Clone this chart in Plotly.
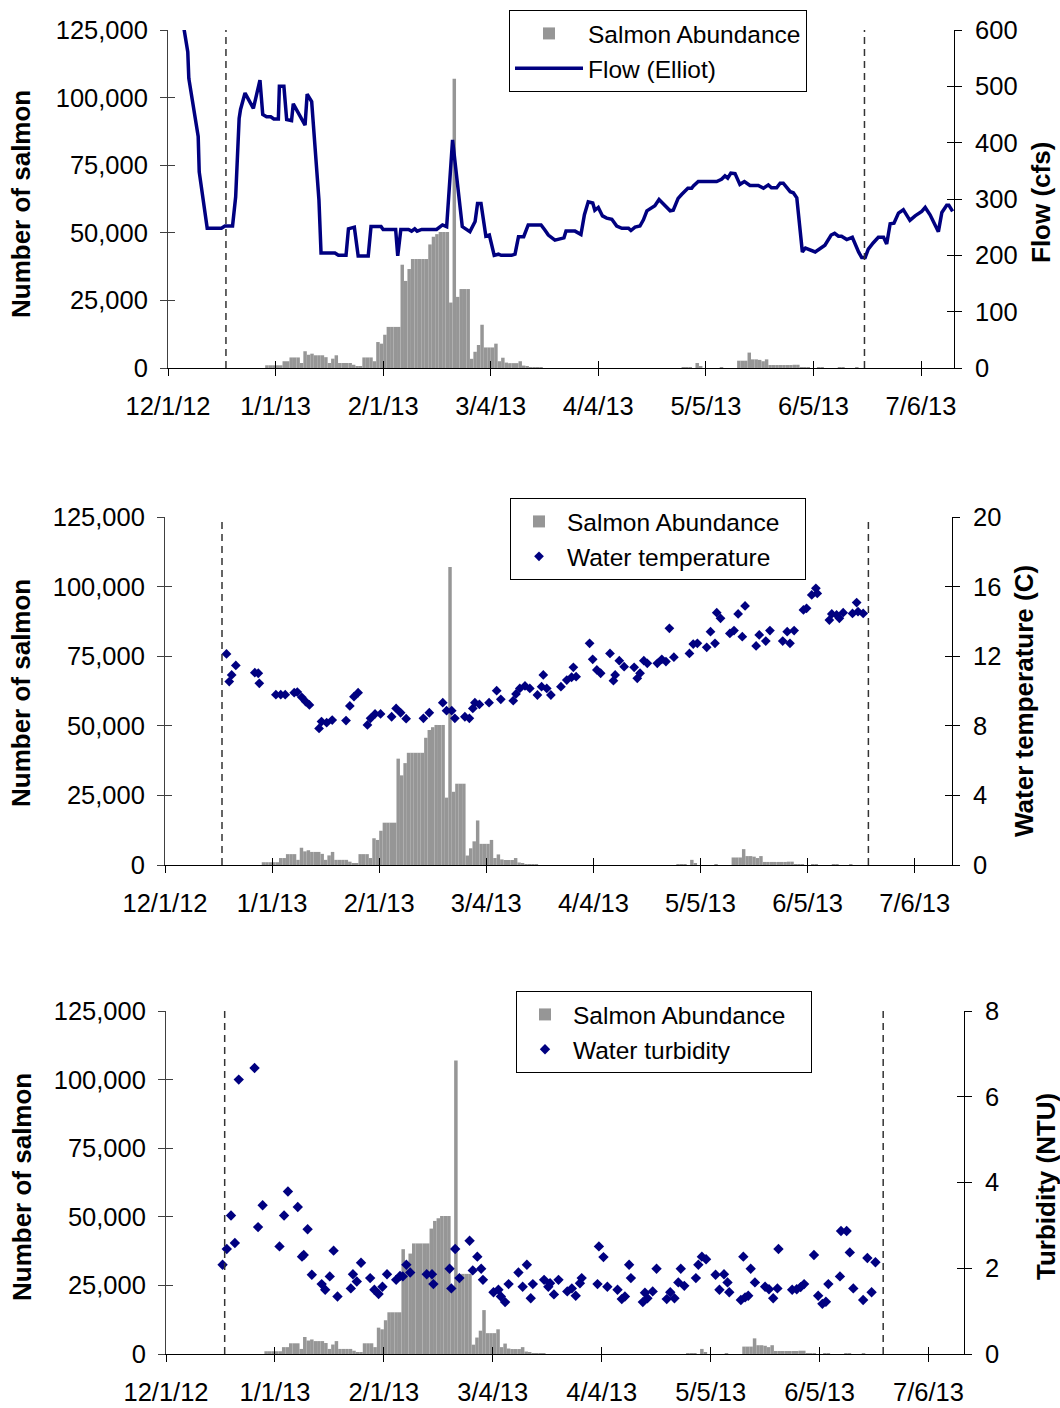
import pandas as pd
import plotly.graph_objects as go

W, H = 1060, 1408
FONT = "Liberation Sans, Arial, sans-serif"
NAVY = "#000080"
BAR_GRAY = "#969696"
ORIGIN = pd.Timestamp("2012-12-01")
DAY_MS = 86400000
NBSP = "\u00a0"

# ---- shared x-axis ticks ----
tick_dates = ["2012-12-01", "2013-01-01", "2013-02-01", "2013-03-04",
              "2013-04-04", "2013-05-05", "2013-06-05", "2013-07-06"]
tick_labels = ["12/1/12", "1/1/13", "2/1/13", "3/4/13",
               "4/4/13", "5/5/13", "6/5/13", "7/6/13"]
count_ticks = [0, 25000, 50000, 75000, 100000, 125000]

# ---- daily salmon abundance (trap counts) ----
winter_run_start = "2012-12-29"
winter_run_counts = [
    1000, 1000, 1000, 1000, 1000, 2500, 2500, 3900, 3900, 3900,
    1850, 6200, 4900, 5300, 4700, 4700, 4700, 4000, 1850, 3450,
    4700, 1850, 1850, 1850, 1850, 1200, 400, 400, 3900, 3900,
    3900, 2500, 9600, 9000, 12300, 15200, 15200, 15200, 15200, 38200,
    32200, 36600, 40300, 40300, 40300, 40300, 40300, 45700, 48500, 49500,
    50300, 50300, 50300, 24200, 107000, 26300, 29200, 29200, 29200, 3400,
    6000, 8500, 16000, 7600, 7600, 7600, 9000, 2500, 3800, 2000,
    1800, 1800, 1800, 2500, 900, 400, 250, 250, 250, 250,
]
spring_run_start = "2013-04-28"
spring_run_counts = [
    200, 200, 200, 0, 1850, 500, 0, 0, 0, 0,
    0, 300, 0, 0, 0, 0, 2700, 2700, 2700, 5700,
    3200, 3200, 3000, 2500, 3200, 1100, 1100, 1100, 1100, 1100,
    1100, 1100, 1200, 1200, 300, 300, 300, 0, 0, 300,
    300, 0, 0, 0, 0, 200, 200, 0, 0, 0,
    200,
]

# ---- flow at Elliot gauge (days after 12/1/12, cfs) ----
flow_days = [
    4.0, 5.7, 6.0, 8.7, 9.0, 11.3, 15.4, 16.4, 18.6, 19.5,
    20.5, 20.9, 22.2, 24.6, 26.5, 27.3, 28.4, 29.6, 30.5, 31.8,
    32.1, 33.4, 34.2, 35.6, 36.1, 37.6, 39.5, 40.1, 41.4, 43.5,
    44.1, 48.1, 49.1, 51.3, 52.0, 53.7, 54.8, 57.7, 58.5, 61.4,
    62.0, 65.6, 66.2, 67.1, 69.3, 70.2, 71.1, 71.8, 73.1, 77.4,
    79.1, 80.3, 82.0, 84.8, 87.0, 88.5, 89.2, 90.2, 91.6, 92.6,
    94.0, 95.2, 96.0, 99.0, 100.0, 101.0, 102.5, 103.8, 107.5, 108.6,
    109.6, 111.5, 112.9, 114.1, 114.7, 117.3, 119.0, 120.0, 121.1, 122.4,
    123.0, 124.0, 125.2, 126.4, 127.9, 129.3, 130.8, 132.7, 133.4, 134.6,
    136.0, 137.0, 138.0, 139.4, 140.3, 141.5, 143.4, 144.7, 145.6, 147.0,
    148.0, 149.8, 150.9, 151.4, 152.8, 158.1, 159.5, 160.5, 161.3, 162.2,
    163.4, 164.8, 166.1, 167.7, 170.1, 171.6, 173.0, 173.9, 175.4, 176.4,
    177.3, 179.3, 180.2, 181.2, 182.8, 183.7, 186.5, 187.9, 189.3, 191.1,
    192.1, 193.2, 194.1, 195.6, 197.2, 199.0, 199.9, 200.9, 201.8, 203.2,
    204.7, 206.2, 207.1, 208.1, 209.2, 210.5, 211.9, 213.8, 215.3, 217.2,
    218.2, 219.6, 220.6, 222.0, 223.0, 224.4, 225.0, 226.1,
]
flow_cfs = [
    625, 561, 514, 411, 348, 248, 248, 252, 252, 304,
    443, 459, 488, 461, 511, 450, 446, 446, 442, 442,
    500, 500, 441, 439, 469, 453, 431, 486, 473, 298,
    204, 204, 200, 200, 247, 250, 199, 199, 251, 251,
    246, 246, 199, 246, 246, 243, 247, 243, 246, 246,
    254, 251, 405, 251, 242, 260, 292, 292, 234, 236,
    200, 202, 200, 200, 202, 233, 233, 254, 254, 245,
    236, 227, 230, 231, 243, 243, 237, 272, 295, 293,
    280, 285, 270, 266, 264, 252, 248, 248, 244, 250,
    252, 263, 279, 285, 288, 299, 288, 279, 280, 301,
    308, 319, 319, 323, 331, 331, 335, 341, 337, 346,
    345, 326, 331, 324, 324, 319, 325, 320, 320, 328,
    328, 313, 311, 302, 206, 213, 206, 213, 218, 236,
    239, 234, 234, 228, 232, 206, 196, 196, 211, 222,
    232, 232, 220, 256, 257, 275, 281, 262, 270, 278,
    285, 272, 260, 242, 276, 289, 289, 278,
]

# ---- water temperature (days after 12/1/12, deg C) ----
temp_days = [
    17.8, 18.6, 19.3, 20.5, 26.0, 27.0, 27.3, 32.1, 33.5, 34.8,
    37.4, 38.3, 39.6, 40.7, 41.8, 44.6, 45.3, 46.8, 48.4, 52.4,
    53.5, 54.7, 55.9, 58.6, 59.5, 60.8, 62.4, 65.6, 66.9, 68.2,
    69.8, 74.8, 76.5, 80.4, 81.5, 83.0, 83.9, 86.8, 88.1, 89.1,
    89.7, 91.0, 93.8, 96.0, 97.2, 100.8, 101.6, 102.7, 104.2, 105.6,
    107.8, 109.0, 109.5, 110.5, 111.7, 114.6, 116.3, 117.7, 118.2, 119.0,
    122.9, 123.8, 125.0, 126.1, 128.8, 129.8, 130.3, 131.5, 132.9, 135.8,
    136.7, 137.5, 138.6, 139.6, 142.5, 143.8, 145.0, 146.0, 147.3, 151.8,
    152.9, 154.1, 156.8, 157.9, 159.2, 159.7, 160.8, 163.5, 164.7, 165.9,
    167.1, 167.9, 171.1, 172.0, 173.9, 175.1, 178.8, 180.1, 180.9, 182.1,
    184.8, 185.7, 187.2, 188.4, 188.8, 192.3, 193.0, 194.4, 195.2, 196.3,
    199.0, 200.2, 200.6, 202.1,
]
temp_c = [
    12.13, 10.54, 10.92, 11.47, 11.05, 11.02, 10.44, 9.79, 9.79, 9.79,
    9.90, 9.94, 9.64, 9.39, 9.20, 7.85, 8.24, 8.18, 8.33, 8.30,
    9.14, 9.67, 9.90, 8.05, 8.43, 8.68, 8.68, 8.52, 9.00, 8.75,
    8.41, 8.43, 8.75, 9.33, 8.87, 8.87, 8.43, 8.52, 8.43, 9.00,
    9.33, 9.23, 9.33, 10.02, 9.52, 9.44, 9.83, 10.15, 10.29, 10.15,
    9.77, 10.25, 10.92, 10.15, 9.77, 10.25, 10.63, 10.79, 11.36, 10.82,
    12.74, 11.82, 11.21, 11.02, 12.16, 10.59, 10.92, 11.74, 11.40, 11.36,
    10.73, 11.02, 11.74, 11.59, 11.59, 11.82, 11.69, 13.60, 11.94, 12.16,
    12.70, 12.74, 12.51, 13.41, 12.74, 14.50, 14.18, 13.31, 13.47, 14.43,
    13.12, 14.89, 12.59, 13.22, 12.87, 13.47, 12.87, 13.41, 12.74, 13.47,
    14.66, 14.75, 15.52, 15.90, 15.61, 14.08, 14.43, 14.37, 14.18, 14.50,
    14.46, 15.08, 14.56, 14.46,
]

# ---- turbidity (days after 12/1/12, NTU) ----
turb_days = [
    16.1, 17.3, 18.5, 19.6, 20.7, 25.2, 26.2, 27.5, 32.3, 33.6,
    34.7, 37.5, 38.7, 39.2, 40.3, 41.5, 44.3, 45.3, 46.6, 47.7,
    48.8, 52.6, 53.2, 54.3, 55.5, 58.1, 59.3, 60.5, 61.6, 62.9,
    65.5, 66.6, 67.4, 68.4, 69.5, 74.2, 75.7, 76.1, 80.7, 81.2,
    82.3, 83.5, 86.4, 87.3, 88.6, 89.7, 90.2, 93.2, 94.6, 95.3,
    96.5, 97.5, 100.3, 101.5, 102.7, 103.8, 104.4, 107.6, 108.8, 109.3,
    110.4, 111.7, 114.2, 115.5, 116.6, 117.8, 118.3, 122.8, 123.2, 124.5,
    125.6, 128.5, 129.7, 130.6, 131.8, 132.3, 135.7, 136.3, 137.0, 138.5,
    139.6, 142.5, 143.5, 144.7, 145.8, 146.5, 147.5, 150.8, 151.5, 152.5,
    153.7, 156.4, 157.5, 158.8, 159.8, 160.3, 163.6, 164.3, 164.8, 165.7,
    166.4, 167.6, 170.5, 171.6, 172.8, 174.0, 174.3, 178.2, 179.5, 180.6,
    181.6, 184.4, 185.6, 186.8, 187.8, 188.5, 191.8, 192.1, 193.7, 194.6,
    195.6, 198.4, 199.6, 200.8, 201.9,
]
turb_ntu = [
    2.08, 2.45, 3.23, 2.59, 6.40, 6.67, 2.96, 3.47, 2.51, 3.23,
    3.79, 3.43, 2.27, 2.31, 2.91, 1.85, 1.63, 1.50, 1.81, 2.41,
    1.34, 1.53, 1.86, 1.69, 2.13, 1.77, 1.50, 1.40, 1.57, 1.86,
    1.73, 1.82, 1.81, 2.08, 1.90, 1.86, 1.86, 1.63, 1.99, 1.53,
    2.45, 1.77, 2.64, 1.95, 2.27, 1.99, 1.73, 1.44, 1.50, 1.34,
    1.21, 1.63, 1.90, 1.57, 2.08, 1.30, 1.63, 1.73, 1.57, 1.65,
    1.39, 1.73, 1.46, 1.53, 1.36, 1.65, 1.77, 1.63, 2.51, 2.26,
    1.57, 1.50, 1.28, 1.34, 2.08, 1.77, 1.21, 1.43, 1.30, 1.46,
    1.99, 1.28, 1.44, 1.30, 1.67, 1.99, 1.59, 1.77, 2.08, 2.27,
    2.21, 1.85, 1.50, 1.86, 1.67, 1.44, 1.26, 2.27, 1.32, 1.36,
    1.99, 1.67, 1.57, 1.51, 1.30, 1.53, 2.45, 1.50, 1.51, 1.56,
    1.63, 2.31, 1.36, 1.17, 1.22, 1.63, 1.81, 2.87, 2.87, 2.37,
    1.53, 1.26, 2.24, 1.44, 2.14,
]

# sampling-window boundaries (days after 12/1/12)
flow_window = [16.7, 200.7]
temp_window = [16.5, 203.6]
turb_window = [16.7, 204.1]


def day_dates(days):
    return [ORIGIN + pd.Timedelta(days=d) for d in days]


def daily_dates(start, n):
    return list(pd.date_range(start, periods=n, freq="D"))


salmon_dates = daily_dates(winter_run_start, len(winter_run_counts)) + \
    daily_dates(spring_run_start, len(spring_run_counts))
salmon_counts = winter_run_counts + spring_run_counts

# panel geometry in pixels: (left, right, top, bottom, x-span in days)
panels = [
    dict(l=168, r=954, t=30, b=368, span=226.5),
    dict(l=165, r=952, t=517, b=865, span=227.8),
    dict(l=166, r=964, t=1011, b=1354, span=227.1),
]

fig = go.Figure()

tickfont = dict(family=FONT, size=25.5, color="black")
legend_ids = ["legend", "legend2", "legend3"]
# trailing pad widens the lower two legend boxes
bar_names = ["Salmon Abundance", "Salmon Abundance" + NBSP * 3,
             "Salmon Abundance" + NBSP * 3]

right_specs = [
    dict(rng=[0, 600], vals=[0, 100, 200, 300, 400, 500, 600]),
    dict(rng=[0, 20], vals=[0, 4, 8, 12, 16, 20]),
    dict(rng=[0, 8], vals=[0, 2, 4, 6, 8]),
]

layout = dict(
    width=W, height=H,
    margin=dict(l=0, r=0, t=0, b=0, autoexpand=False),
    paper_bgcolor="white", plot_bgcolor="white",
    font=dict(family=FONT, size=24, color="black"),
    showlegend=True,
    shapes=[], annotations=[],
)

# axis ids: main x = k, left y = 2k-1, right y = 2k, overlays for crossing ticks
for i, p in enumerate(panels):
    k = i + 1
    xid = "x" if k == 1 else f"x{k}"
    yl = f"y{2*k-1}" if k > 1 else "y"
    xo = f"x{k+3}"
    ylo = f"y{2*k+5}"
    yro = f"y{2*k+6}"

    xdom = [p["l"] / W, p["r"] / W]
    ydom = [1 - p["b"] / H, 1 - p["t"] / H]
    xr = [ORIGIN, ORIGIN + pd.Timedelta(days=p["span"])]

    common_x = dict(type="date", range=xr, domain=xdom, tickmode="array",
                    tickvals=tick_dates, ticktext=tick_labels,
                    showgrid=False, zeroline=False, ticklen=7, tickwidth=1,
                    tickcolor="black")
    layout["xaxis" if k == 1 else f"xaxis{k}"] = dict(
        common_x, anchor=yl, ticks="outside", showline=True, linecolor="black",
        linewidth=1, tickfont=tickfont, ticklabelstandoff=8)
    layout[f"xaxis{k+3}"] = dict(
        common_x, anchor=yl, overlaying=xid, ticks="inside",
        showticklabels=False, showline=False)

    common_yl = dict(range=[0, 125000], tickmode="array", tickvals=count_ticks,
                     showgrid=False, zeroline=False, ticklen=7, tickwidth=1,
                     tickcolor="#404040")
    layout["yaxis" if k == 1 else f"yaxis{2*k-1}"] = dict(
        common_yl, domain=ydom, anchor=xid, side="left", ticks="outside",
        tickformat=",d", showline=True, linecolor="#404040", linewidth=1,
        tickfont=tickfont, ticklabelstandoff=7)
    layout[f"yaxis{2*k+5}"] = dict(
        common_yl, anchor=xid, overlaying=yl, side="left", ticks="inside",
        showticklabels=False, showline=False)

    rs = right_specs[i]
    common_yr = dict(range=rs["rng"], tickmode="array", tickvals=rs["vals"],
                     showgrid=False, zeroline=False, ticklen=7, tickwidth=1,
                     tickcolor="black")
    layout[f"yaxis{2*k}"] = dict(
        common_yr, anchor=xid, overlaying=yl, side="right", ticks="outside",
        showline=True, linecolor="black", linewidth=1, tickfont=tickfont,
        ticklabelstandoff=8)
    layout[f"yaxis{2*k+6}"] = dict(
        common_yr, anchor=xid, overlaying=yl, side="right", ticks="inside",
        showticklabels=False, showline=False)

    # placeholder traces so the crossing-tick overlay axes get drawn
    for xa, ya in [(xo, yl), (xid, ylo), (xid, yro)]:
        fig.add_trace(go.Scatter(x=[None], y=[None], xaxis=xa, yaxis=ya,
                                 showlegend=False, hoverinfo="skip"))

    # salmon abundance bars
    fig.add_trace(go.Bar(
        x=salmon_dates, y=salmon_counts, xaxis=xid, yaxis=yl,
        width=DAY_MS, offset=0, marker=dict(color=BAR_GRAY, line=dict(width=0)),
        name=bar_names[i], legend=legend_ids[i]))

# flow line
fig.add_trace(go.Scatter(
    x=day_dates(flow_days), y=flow_cfs, xaxis="x", yaxis="y2", mode="lines",
    line=dict(color=NAVY, width=3.5), name="Flow (Elliot)", legend="legend"))

# temperature points
fig.add_trace(go.Scatter(
    x=day_dates(temp_days), y=temp_c, xaxis="x2", yaxis="y4", mode="markers",
    marker=dict(symbol="diamond", color=NAVY, size=7.5, line=dict(width=0)),
    name="Water temperature", legend="legend2"))

# turbidity points
fig.add_trace(go.Scatter(
    x=day_dates(turb_days), y=turb_ntu, xaxis="x3", yaxis="y6", mode="markers",
    marker=dict(symbol="diamond", color=NAVY, size=8, line=dict(width=0)),
    name="Water turbidity", legend="legend3"))

# dashed sampling-window markers
for xid, window in [("x", flow_window), ("x2", temp_window), ("x3", turb_window)]:
    yl = {"x": "y", "x2": "y3", "x3": "y5"}[xid]
    for d in window:
        t = ORIGIN + pd.Timedelta(days=d)
        layout["shapes"].append(dict(
            type="line", xref=xid, yref=f"{yl} domain", x0=t, x1=t, y0=0, y1=1,
            line=dict(color="#333333", width=1.5, dash="7px,5px")))

# legends
legend_pos = [(509, 10, 68), (510, 498, 46), (516, 991, 46)]
for lid, (lx, ly, iw) in zip(legend_ids, legend_pos):
    layout[lid] = dict(
        x=lx / W, y=1 - ly / H, xanchor="left", yanchor="top",
        bgcolor="white", bordercolor="black", borderwidth=1,
        font=dict(family=FONT, size=24.5, color="black"),
        itemwidth=iw, tracegroupgap=0, traceorder="normal")

# axis titles
title_font = dict(family=FONT, size=26, color="black", weight="bold")
titles = [
    ("Number of salmon", 21, 204), ("Flow (cfs)", 1041, 203),
    ("Number of salmon", 21, 693), ("Water temperature (C)", 1024, 701),
    ("Number of salmon", 22, 1187), ("Turbidity (NTU)", 1046, 1187),
]
for text, tx, ty in titles:
    layout["annotations"].append(dict(
        text=text, x=tx / W, y=1 - ty / H, xref="paper", yref="paper",
        xanchor="center", yanchor="middle", textangle=-90, showarrow=False,
        font=title_font))

fig.update_layout(**layout)
fig.write_html("out.html")
